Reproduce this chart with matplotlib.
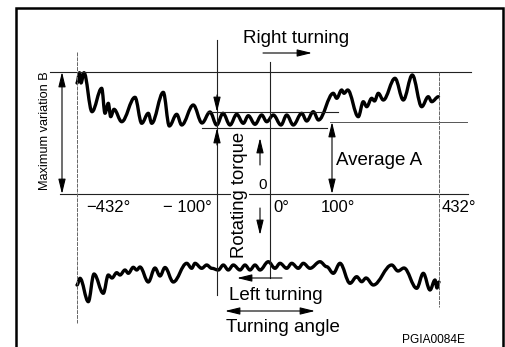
import matplotlib
matplotlib.use("Agg")
import matplotlib.pyplot as plt
from matplotlib.path import Path
from matplotlib.patches import PathPatch

# ---- data (schematic coordinates, y grows downward) ----
upper_x = [77, 79.5, 81, 84, 92, 101.7, 105, 108.3, 110.7, 114, 121.7, 135, 141.7, 148.3,
           151.7, 163.3, 169.3, 176.7, 181.7, 193.3, 202, 210, 216.7, 223, 230, 236.7,
           243.3, 248.3, 255, 261.7, 266.7, 273.3, 281, 286.7, 293.3, 301.7, 306.7, 313.3,
           318.5, 333.3, 336.7, 341.7, 344, 347.7, 358.3, 363.3, 366.7, 371.7, 374.5,
           378.3, 383.3, 395, 403.3, 412.3, 421.7, 428.3, 431.7, 438.5]
upper_y = [83, 72.7, 83, 72.7, 111.7, 88.3, 113.3, 103.3, 116.7, 109.3, 121.7, 97.3, 123.3,
           113.3, 123.3, 92.3, 126, 114.3, 125, 105, 123, 112, 125, 113.3, 125, 114.3,
           123.3, 115.7, 124.3, 115, 121.7, 115, 125, 115, 125, 113.3, 121, 111.7,
           120, 93.3, 98.3, 90, 93.3, 90, 116.7, 101.7, 106.7, 98.3, 101,
           93.3, 100, 78.3, 100, 75, 106.7, 96.7, 101.7, 96.7]

lower_x = [77, 80, 88.3, 94, 103.3, 108.3, 112, 116.7, 120, 125, 128.3, 133.3, 136.7, 140,
           148.3, 155, 160, 165, 173.3, 186.7, 191.7, 195, 201.7, 206.7, 211.7, 218.3,
           223.3, 228.3, 233.3, 240, 245, 250, 255, 260, 268.3, 275, 280, 286.7, 291.7,
           298.3, 303.3, 310, 320, 326.7, 333.3, 340, 350, 356.7, 361.7, 366, 373.3, 391.7,
           398, 404, 416.7, 423.3, 430, 435, 437, 439]
lower_y = [285, 278.3, 301.7, 274, 293.3, 275, 278, 272.7, 275, 270, 273.3, 267.3, 270, 267,
           282, 268, 276, 267.5, 282, 263.3, 268.3, 263.3, 268.3, 265, 268.3, 270,
           265, 270, 265, 270, 265, 270, 265, 270, 261.7, 268.3, 263.3, 268.3, 263.3,
           268.3, 263.3, 268.3, 261.7, 266.7, 273.3, 263.3, 283.3, 276.7, 281.7, 278, 285, 265,
           271, 268, 288.3, 273.3, 290, 280, 288, 282]

tick_labels = ["\u2212432\u00b0", "\u2212 100\u00b0", "0\u00b0", "100\u00b0", "432\u00b0"]
tick_pos = [108, 187, 281, 338, 459]

SANS = ["Liberation Sans", "DejaVu Sans"]

fig = plt.figure(figsize=(5.06, 3.47), dpi=100)
ax = fig.add_axes([0, 0, 1, 1])
ax.set_xlim(0, 506)
ax.set_ylim(347, 0)
ax.axis("off")


def smooth_curve(xs, ys, k=0.36):
    verts = [(xs[0], ys[0])]
    codes = [Path.MOVETO]
    for i in range(len(xs) - 1):
        dx = xs[i + 1] - xs[i]
        verts += [(xs[i] + k * dx, ys[i]), (xs[i + 1] - k * dx, ys[i + 1]), (xs[i + 1], ys[i + 1])]
        codes += [Path.CURVE4] * 3
    return Path(verts, codes)


# frame
ax.plot([16, 16, 503, 503], [347, 8, 8, 347], color="black", lw=1.8, solid_joinstyle="miter")

thin = dict(color="#222222", lw=0.8)
faint = dict(color="#555555", lw=0.7)
# horizontal reference lines
ax.plot([50, 471], [72, 72], **thin)
ax.plot([60, 468], [194, 194], **thin)
ax.plot([330, 467], [122, 122], **faint)
ax.plot([207, 338], [112, 112], **thin)
ax.plot([202, 327], [128, 128], **thin)
# vertical lines
ax.plot([77, 77], [52, 323], color="#666666", lw=0.7, ls=(0, (4, 1)))
ax.plot([439, 439], [72, 307], color="#666666", lw=0.7, ls=(0, (4, 1)))
ax.plot([217, 217], [40, 295], **thin)
ax.plot([270, 270], [62, 278], **thin)

# curves
ax.add_patch(PathPatch(smooth_curve(upper_x, upper_y), fill=False, lw=2.4, color="black",
                       capstyle="round", joinstyle="round"))
ax.add_patch(PathPatch(smooth_curve(lower_x, lower_y), fill=False, lw=2.4, color="black",
                       capstyle="round", joinstyle="round"))


def arrow(x0, y0, x1, y1, style="-|>"):
    ax.annotate("", xy=(x1, y1), xytext=(x0, y0),
                arrowprops=dict(arrowstyle=style + ",head_length=0.9,head_width=0.22",
                                color="black", lw=0.8, shrinkA=0, shrinkB=0,
                                mutation_scale=10))


arrow(62, 72, 62, 194, "<|-|>")          # maximum variation B
arrow(332, 122, 332, 194, "<|-|>")       # average A
arrow(217, 95, 217, 112)                 # band arrow down
arrow(217, 145, 217, 128)                # band arrow up
arrow(260, 165, 260, 138)                # torque up
arrow(260, 208, 260, 235)                # torque down
arrow(263, 53, 312, 53)                  # right turning
arrow(282, 278, 237, 278)                # left turning
arrow(225, 311, 315, 311, "<|-|>")       # turning angle

# texts
ax.text(296, 38, "Right turning", family=SANS, fontsize=13.5, ha="center", va="center")
ax.text(336, 160, "Average A", family=SANS, fontsize=13.5, ha="left", va="center")
ax.text(276, 295, "Left turning", family=SANS, fontsize=13.5, ha="center", va="center")
ax.text(282.5, 328, "Turning angle", family=SANS, fontsize=13.5, ha="center", va="center")
ax.text(240, 195, "Rotating torque", family=SANS, fontsize=13.3, ha="center", va="center",
        rotation=90, bbox=dict(facecolor="white", edgecolor="none", pad=0.5))
ax.text(45, 131, "Maximum variation B", family=SANS, fontsize=9.2, ha="center",
        va="center", rotation=90)
ax.text(263, 185, "0", family=SANS, fontsize=11, ha="center", va="center")
for lab, xp in zip(tick_labels, tick_pos):
    ax.text(xp, 207, lab, family=SANS, fontsize=12, ha="center", va="center")
ax.text(433, 340, "PGIA0084E", family=SANS, fontsize=8.6, ha="center", va="center")

fig.savefig("out.png", dpi=100)
